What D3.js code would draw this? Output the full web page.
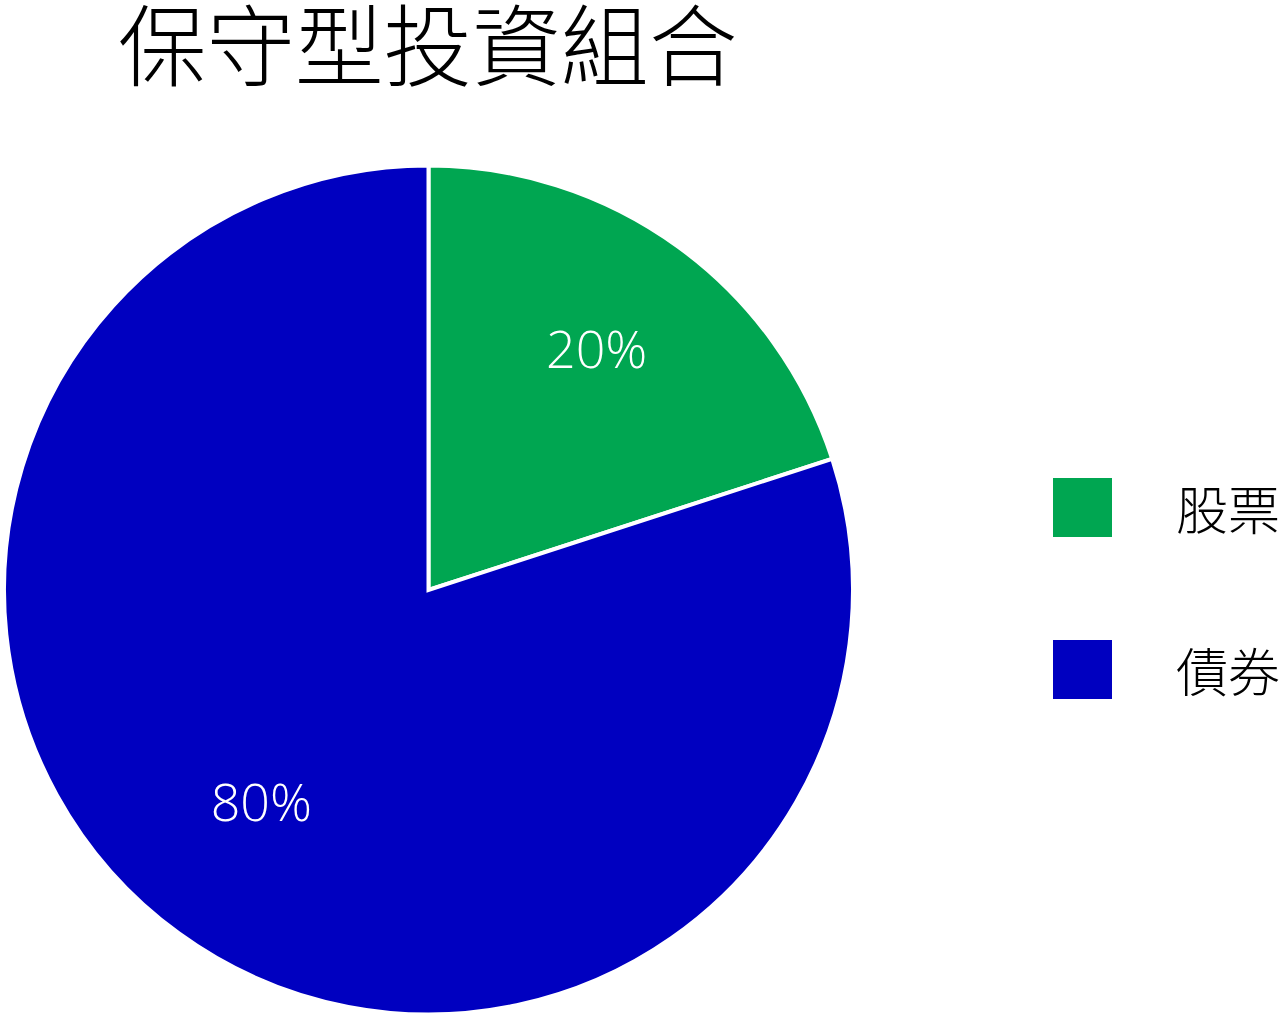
<!DOCTYPE html>
<html>
<head>
<meta charset="utf-8">
<script src="https://cdn.jsdelivr.net/npm/d3@7"></script>
<style>
  html, body { margin: 0; padding: 0; background: #fff; }
  svg { display: block; }
</style>
</head>
<body>
<svg id="chart" width="1280" height="1019"></svg>
<script>
const title = "保守型投資組合";
const categories = ["股票", "債券"];
const values = [20, 80];
const labels = ["20%", "80%"];
const colors = ["#00A651", "#0000C0"];

const W = 1280, H = 1019;
const cx = 428.5, cy = 590, R = 424.5;
const labelFrac = [0.69, 0.63];

const svg = d3.select("#chart");

svg.append("text")
  .attr("x", 118).attr("y", 40)
  .attr("dominant-baseline", "central")
  .attr("font-family", "'Noto Sans CJK TC', 'Noto Sans CJK SC', sans-serif")
  .attr("font-weight", 300)
  .attr("font-size", 88.5)
  .attr("fill", "#000")
  .text(title);

const pie = d3.pie().sort(null).value(d => d)(values);
const arc = d3.arc().innerRadius(0).outerRadius(R);

const g = svg.append("g").attr("transform", `translate(${cx},${cy})`);
g.selectAll("path").data(pie).join("path")
  .attr("d", arc)
  .attr("fill", (d, i) => colors[i])
  .attr("stroke", "#fff")
  .attr("stroke-width", 4)
  .attr("stroke-linejoin", "miter");

g.selectAll("text.lbl").data(pie).join("text")
  .attr("class", "lbl")
  .attr("transform", (d, i) => {
    const a = d3.arc().innerRadius(R * labelFrac[i]).outerRadius(R * labelFrac[i]);
    const [x, y] = a.centroid(d);
    return `translate(${x - (i === 1 ? 10 : 4)},${y - 6})`;
  })
  .attr("text-anchor", "middle")
  .attr("dominant-baseline", "central")
  .attr("font-family", "'Open Sans', 'Noto Sans', sans-serif")
  .attr("font-weight", 300)
  .attr("font-size", 52)
  .attr("fill", "#fff")
  .text((d, i) => labels[i]);

const legendY = d3.scaleBand().domain(categories).range([426.5, 750.5]).paddingInner(0);
const lg = svg.append("g");
categories.forEach((c, i) => {
  const yc = legendY(c) + legendY.bandwidth() / 2;
  lg.append("rect")
    .attr("x", 1053).attr("y", yc - 29.5)
    .attr("width", 59).attr("height", 59)
    .attr("fill", colors[i]);
  lg.append("text")
    .attr("x", 1176).attr("y", yc)
    .attr("dominant-baseline", "central")
    .attr("font-family", "'Noto Sans CJK TC', 'Noto Sans CJK SC', sans-serif")
    .attr("font-weight", 300)
    .attr("font-size", 52)
    .attr("fill", "#000")
    .text(c);
});
</script>
</body>
</html>
